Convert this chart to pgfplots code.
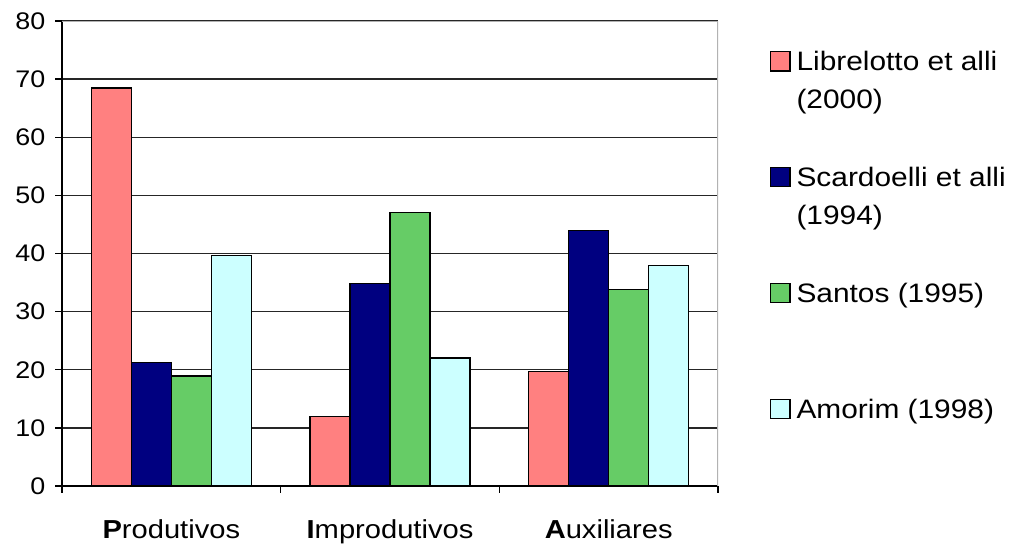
\documentclass[border=0pt]{standalone}
\usepackage{pgfplots}
\pgfplotsset{compat=1.18}
\usepackage{fontspec}
\setmainfont{Liberation Sans}[FakeStretch=1.12]
\definecolor{cPink}{HTML}{FF8080}
\definecolor{cNavy}{HTML}{000080}
\definecolor{cGreen}{HTML}{66CC66}
\definecolor{cCyan}{HTML}{CCFFFF}
\pgfplotsset{mylegend/.style={legend image code/.code={\draw[##1, draw=black, line width=0.9pt] (0pt,0pt) rectangle (14.5pt,14.5pt);}}}
\begin{document}
\begin{tikzpicture}
\useasboundingbox (-46.5pt,-44.25pt) rectangle (715.5pt,364.5pt);
\begin{axis}[
  at={(0,0)}, anchor=south west,
  scale only axis, width=492pt, height=348.75pt,
  ybar=0pt, bar width=30pt,
  xmin=-0.5, xmax=2.5, ymin=0, ymax=80,
  ytick={0,10,...,80},
  xtick={-0.5,0.5,1.5,2.5}, xticklabels={},
  extra x ticks={0,1,2},
  extra x tick labels={{\textbf{P}rodutivos},{\textbf{I}mprodutivos},{\textbf{A}uxiliares}},
  extra x tick style={major tick length=0pt, xticklabel style={font=\fontsize{19.5}{23}\selectfont, anchor=base, yshift=-39pt}},
  tick align=outside, major tick length=5pt,
  tick style={black, line width=1pt},
  axis x line*=bottom, axis y line*=left,
  axis line style={black, line width=1pt},
  ymajorgrids, grid style={black!85, line width=1.1pt},
  /pgf/number format/assume math mode=true,
  yticklabel style={font=\fontsize{18}{21}\selectfont, xshift=-4pt},
  every axis plot post/.append style={mylegend},
  legend cell align=left,
  legend style={at={(rel axis cs:1,1)}, anchor=north west, xshift=39pt, yshift=-15.5pt,
    draw=none, fill=none, inner sep=0pt, outer sep=0pt, row sep=0pt,
    /tikz/every odd column/.style={column sep=2.5pt},
    font=\fontsize{20}{28.5}\selectfont, nodes={inner sep=2pt, anchor=base west, text depth=63pt}},
]
\addplot[fill=cPink, draw=black, line width=1pt] coordinates {(0,68.5) (1,12.0) (2,19.7)};
\addplot[fill=cNavy, draw=black, line width=1pt] coordinates {(0,21.3) (1,34.8) (2,43.9)};
\addplot[fill=cGreen, draw=black, line width=1pt] coordinates {(0,18.9) (1,47.0) (2,33.8)};
\addplot[fill=cCyan, draw=black, line width=1pt] coordinates {(0,39.6) (1,22.0) (2,37.9)};
\addlegendentry{\begin{tabular}[t]{@{}l@{}}Librelotto et alli\\(2000)\end{tabular}}
\addlegendentry{\begin{tabular}[t]{@{}l@{}}Scardoelli et alli\\(1994)\end{tabular}}
\addlegendentry{\begin{tabular}[t]{@{}l@{}}Santos (1995)\\\mbox{}\end{tabular}}
\addlegendentry{\begin{tabular}[t]{@{}l@{}}Amorim (1998)\\\mbox{}\end{tabular}}
\draw[gray!60, line width=1pt] (rel axis cs:0,1) -- (rel axis cs:1,1) -- (rel axis cs:1,0);
\end{axis}
\end{tikzpicture}
\end{document}
